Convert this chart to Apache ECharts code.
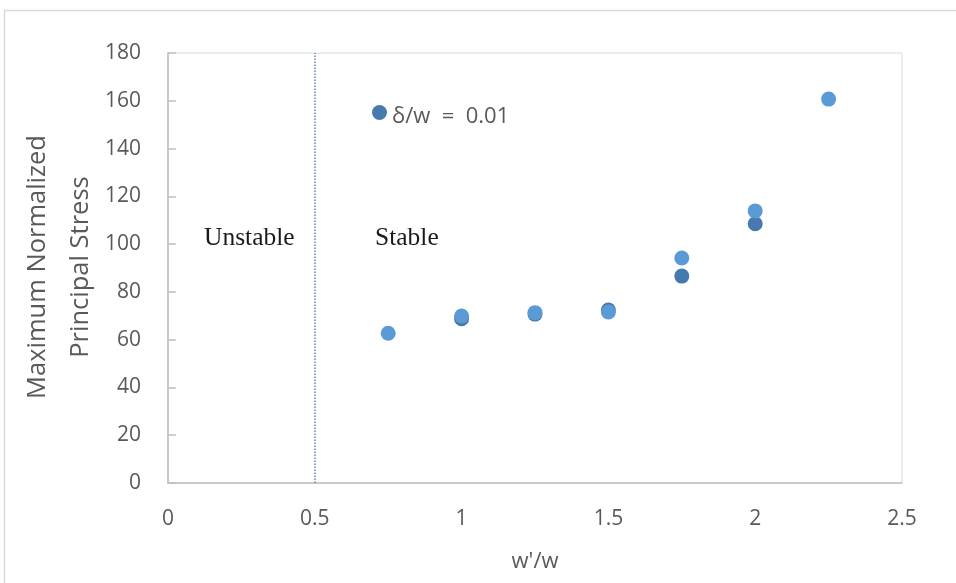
<!DOCTYPE html>
<html>
<head>
<meta charset="utf-8">
<script src="https://cdn.jsdelivr.net/npm/echarts@6/dist/echarts.min.js"></script>
<style>
  html, body { margin: 0; padding: 0; background: #fff; }
  #chart { width: 956px; height: 583px; }
</style>
</head>
<body>
<div id="chart"></div>
<script>
// Width ratio w'/w for each model
const ratioDark = [1.0, 1.25, 1.5, 1.75, 2.0];
const stressDark = [68.8, 70.7, 72.4, 86.6, 108.5];
const ratioLight = [0.75, 1.0, 1.25, 1.5, 1.75, 2.0, 2.25];
const stressLight = [62.7, 69.9, 71.3, 71.6, 94.2, 113.9, 160.7];
const stabilityLimit = 0.5;
const legendName = 'δ/w  =  0.01';

const fontSans = '"Open Sans", "Noto Sans", sans-serif';
const fontSerif = '"Liberation Serif", "DejaVu Serif", serif';
const textGray = '#595959';

const pairs = (xs, ys) => xs.map((x, i) => [x, ys[i]]);

const chart = echarts.init(document.getElementById('chart'), null, { renderer: 'canvas' });

chart.setOption({
  animation: false,
  backgroundColor: '#fff',
  grid: {
    left: 168, top: 53, right: 54, bottom: 100,
    show: true, borderColor: '#D9D9D9', borderWidth: 1
  },
  legend: {
    data: [legendName],
    left: 372, top: 105, padding: 0,
    icon: 'circle', itemWidth: 15, itemHeight: 15, itemGap: 6,
    formatter: '{t|{name}}',
    textStyle: {
      fontFamily: fontSans, fontSize: 22, color: textGray,
      rich: { t: { fontFamily: fontSans, fontSize: 22, color: textGray, padding: [9, 0, 0, 0] } }
    }
  },
  xAxis: {
    type: 'value', min: 0, max: 2.5, interval: 0.5,
    name: "w'/w", nameLocation: 'middle', nameGap: 68,
    nameTextStyle: { fontFamily: fontSans, fontSize: 22, color: textGray },
    axisLine: { show: true, onZero: false, lineStyle: { color: '#BFBFBF', width: 1.5 } },
    axisTick: { show: false },
    splitLine: { show: false },
    axisLabel: { margin: 26, fontFamily: fontSans, fontSize: 21, color: textGray }
  },
  yAxis: {
    type: 'value', min: 0, max: 180, interval: 20,
    axisLine: { show: true, onZero: false, lineStyle: { color: '#BFBFBF', width: 1.5 } },
    axisTick: { show: true, inside: true, length: 8, lineStyle: { color: '#BFBFBF', width: 1.5 } },
    splitLine: { show: false },
    axisLabel: { margin: 27, fontFamily: fontSans, fontSize: 21, color: textGray }
  },
  graphic: [
    {
      type: 'rect', silent: true, z: -10,
      shape: { x: 4.5, y: 10.5, width: 1000, height: 1000 },
      style: { fill: 'none', stroke: '#D9D9D9', lineWidth: 1.5 }
    },
    {
      type: 'text', x: 59, y: 267, rotation: Math.PI / 2,
      style: {
        text: 'Maximum Normalized\nPrincipal Stress',
        fontFamily: fontSans, fontSize: 25.5, fill: textGray,
        align: 'center', verticalAlign: 'middle', lineHeight: 43
      }
    },
    {
      type: 'text', x: 204, y: 238,
      style: { text: 'Unstable', fontFamily: fontSerif, fontSize: 25.5, fill: '#1a1a1a', verticalAlign: 'middle' }
    },
    {
      type: 'text', x: 375, y: 238,
      style: { text: 'Stable', fontFamily: fontSerif, fontSize: 25.5, fill: '#1a1a1a', verticalAlign: 'middle' }
    }
  ],
  series: [
    {
      name: legendName, type: 'scatter',
      data: pairs(ratioDark, stressDark),
      symbolSize: 15,
      itemStyle: { color: '#4679AE', opacity: 1 },
      markLine: {
        silent: true, symbol: 'none', label: { show: false },
        lineStyle: { color: '#5B84C4', type: 'dotted', width: 1.5 },
        data: [{ xAxis: stabilityLimit }]
      }
    },
    {
      name: 'light', type: 'scatter',
      data: pairs(ratioLight, stressLight),
      symbolSize: 15,
      itemStyle: { color: '#5B9BD5', opacity: 1 }
    }
  ]
});
</script>
</body>
</html>
